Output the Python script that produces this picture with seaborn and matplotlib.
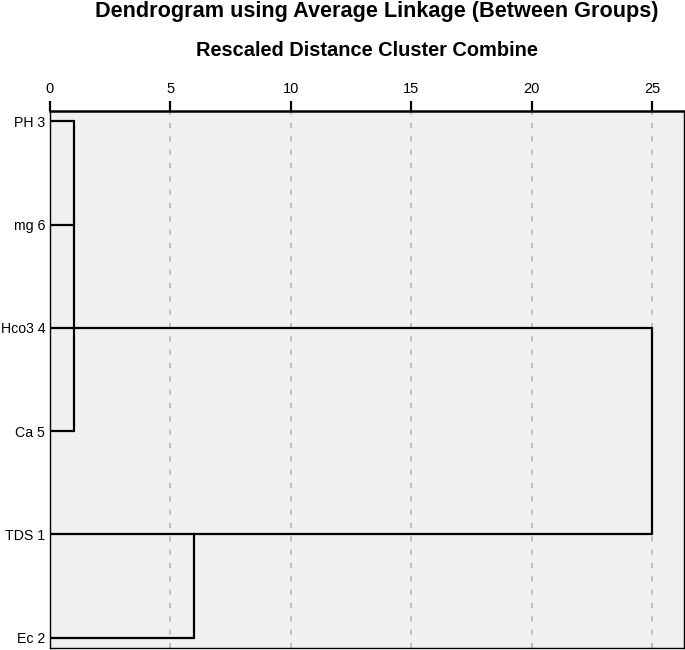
import numpy as np
import pandas as pd
import matplotlib
matplotlib.use("Agg")
import matplotlib.pyplot as plt
import seaborn as sns

# leaves, top to bottom
labels = ["PH 3", "mg 6", "Hco3 4", "Ca 5", "TDS 1", "Ec 2"]
# clusters: (first row, last row), row the link leaves from, rescaled distance
cluster_rows = [(0, 3), (4, 5)]
cluster_exit = [2, 4]
cluster_height = [1, 6]
root_height = 25
x_ticks = [0, 5, 10, 15, 20, 25]

title = "Dendrogram using Average Linkage (Between Groups)"
subtitle = "Rescaled Distance Cluster Combine"


def build_segments():
    segs = []
    sid = 0
    for (r0, r1), ex, h in zip(cluster_rows, cluster_exit, cluster_height):
        # leaf branches
        for r in range(r0, r1 + 1):
            segs += [(sid, 0, r), (sid, h, r)]
            sid += 1
        # vertical joining line
        segs += [(sid, h, r0), (sid, h, r1)]
        sid += 1
        # link out to the root
        segs += [(sid, h, ex), (sid, root_height, ex)]
        sid += 1
    segs += [(sid, root_height, cluster_exit[0]), (sid, root_height, cluster_exit[1])]
    return pd.DataFrame(segs, columns=["seg", "x", "y"])


sns.set_style("white")
plt.rcParams["font.family"] = ["Liberation Sans", "DejaVu Sans"]
plt.rcParams["text.color"] = "black"
plt.rcParams["xtick.color"] = "black"
plt.rcParams["ytick.color"] = "black"

fig = plt.figure(figsize=(6.85, 6.5), dpi=100)
ax = fig.add_axes([49.5 / 685, 1 - 648 / 650, (683.5 - 49.5) / 685, (648 - 111) / 650])
ax.set_facecolor("#f0f0f0")

for xv in x_ticks[1:]:
    ax.axvline(xv, color="#b4b4b4", lw=1.2, ls=(0, (3, 5)), zorder=1)

df = build_segments()
sns.lineplot(data=df, x="x", y="y", units="seg", estimator=None, sort=False,
             color="black", lw=1.6, ax=ax, zorder=3, legend=False)

ax.set_xlim(0, 26.3)
ax.set_ylim(5.1, -0.1)
ax.xaxis.tick_top()
ax.set_xticks(x_ticks)
ax.set_xticklabels([str(t) for t in x_ticks], fontsize=10.5)
ax.tick_params(axis="x", direction="out", length=7, width=1.6, color="black", pad=4)
ax.set_yticks(range(len(labels)))
ax.set_yticklabels(labels, fontsize=10.2)
ax.tick_params(axis="y", length=0, pad=3)
ax.set_xlabel("")
ax.set_ylabel("")

for side in ["left", "right", "bottom"]:
    ax.spines[side].set_color("black")
    ax.spines[side].set_linewidth(1.0)
ax.spines["top"].set_color("black")
ax.spines["top"].set_linewidth(1.8)

fig.text(376.5 / 685, 1 - 11 / 650, title, ha="center", va="center",
         fontsize=15.6, fontweight="bold")
fig.text(366.5 / 685, 1 - 50 / 650, subtitle, ha="center", va="center",
         fontsize=14.4, fontweight="bold")

fig.savefig("out.png", dpi=100)
